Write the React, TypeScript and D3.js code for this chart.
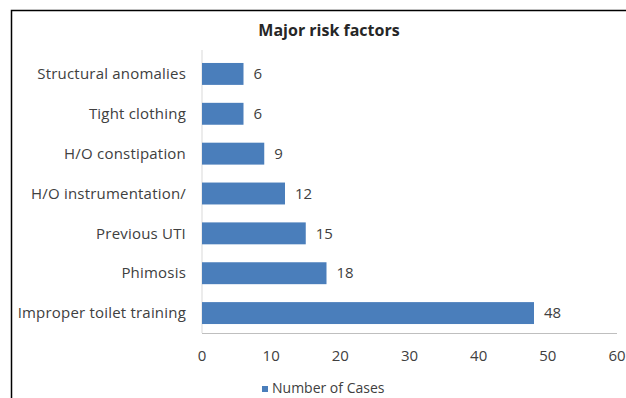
import React, { useEffect, useRef } from 'react';
import * as d3 from 'd3';

// categories from top to bottom, as shown in the picture
const categories = [
  'Structural anomalies',
  'Tight clothing',
  'H/O constipation',
  'H/O instrumentation/',
  'Previous UTI',
  'Phimosis',
  'Improper toilet training',
];
const cases = [6, 6, 9, 12, 15, 18, 48];
const xTicks = [0, 10, 20, 30, 40, 50, 60];
const seriesName = 'Number of Cases';
const chartTitle = 'Major risk factors';

const W = 626;
const H = 398;
const FONT = '"Open Sans", Lato, sans-serif';

const App: React.FC = () => {
  const svgRef = useRef<SVGSVGElement | null>(null);

  useEffect(() => {
    const svg = d3.select(svgRef.current);
    svg.selectAll('*').remove();

    const plot = { left: 202, right: 617, top: 54, bottom: 333 };

    // chart frame (only the top and left edges show in the crop)
    svg.append('rect')
      .attr('x', 11.5).attr('y', 10.5)
      .attr('width', W + 20).attr('height', H + 20)
      .attr('fill', '#fff').attr('stroke', '#000').attr('stroke-width', 1.5);

    svg.append('text')
      .attr('x', 329).attr('y', 36)
      .attr('text-anchor', 'middle')
      .attr('font-family', FONT).attr('font-weight', 700).attr('font-size', 16)
      .attr('fill', '#262626')
      .text(chartTitle);

    const x = d3.scaleLinear().domain([0, 60]).range([plot.left, plot.right]);
    const y = d3.scaleBand().domain(categories).range([plot.top, plot.bottom]).paddingInner(0.45).paddingOuter(0.225);

    // axes lines
    svg.append('line')
      .attr('x1', plot.left).attr('x2', plot.left)
      .attr('y1', plot.top - 4).attr('y2', plot.bottom)
      .attr('stroke', '#d9d9d9').attr('stroke-width', 1);
    svg.append('line')
      .attr('x1', plot.left).attr('x2', plot.right)
      .attr('y1', plot.bottom + 0.5).attr('y2', plot.bottom + 0.5)
      .attr('stroke', '#bfbfbf').attr('stroke-width', 1);

    // bars
    const data = categories.map((c, i) => ({ c, v: cases[i] }));
    svg.append('g').selectAll('rect').data(data).join('rect')
      .attr('x', x(0))
      .attr('y', d => y(d.c)!)
      .attr('width', d => x(d.v) - x(0))
      .attr('height', y.bandwidth())
      .attr('fill', '#4a7ebb');

    // value labels
    svg.append('g').selectAll('text').data(data).join('text')
      .attr('x', d => x(d.v) + 10)
      .attr('y', d => y(d.c)! + y.bandwidth() / 2)
      .attr('dy', '0.35em')
      .attr('font-family', FONT).attr('font-size', 15)
      .attr('fill', '#404040')
      .text(d => d.v);

    // category labels
    svg.append('g').selectAll('text').data(categories).join('text')
      .attr('x', plot.left - 16)
      .attr('y', d => y(d)! + y.bandwidth() / 2)
      .attr('dy', '0.35em')
      .attr('text-anchor', 'end')
      .attr('font-family', FONT).attr('font-size', 15)
      .attr('letter-spacing', 0.2)
      .attr('fill', '#404040')
      .text(d => d);

    // x tick labels
    svg.append('g').selectAll('text').data(xTicks).join('text')
      .attr('x', d => x(d))
      .attr('y', 361)
      .attr('text-anchor', 'middle')
      .attr('font-family', FONT).attr('font-size', 15)
      .attr('fill', '#404040')
      .text(d => d);

    // legend
    svg.append('rect')
      .attr('x', 262).attr('y', 386).attr('width', 6).attr('height', 6)
      .attr('fill', '#4a7ebb');
    svg.append('text')
      .attr('x', 272).attr('y', 393)
      .attr('font-family', FONT).attr('font-size', 14)
      .attr('fill', '#404040')
      .text(seriesName);
  }, []);

  return (
    <svg
      ref={svgRef}
      width={W}
      height={H}
      style={{ position: 'absolute', left: 0, top: 0, display: 'block', background: '#fff' }}
    />
  );
};

export default App;
